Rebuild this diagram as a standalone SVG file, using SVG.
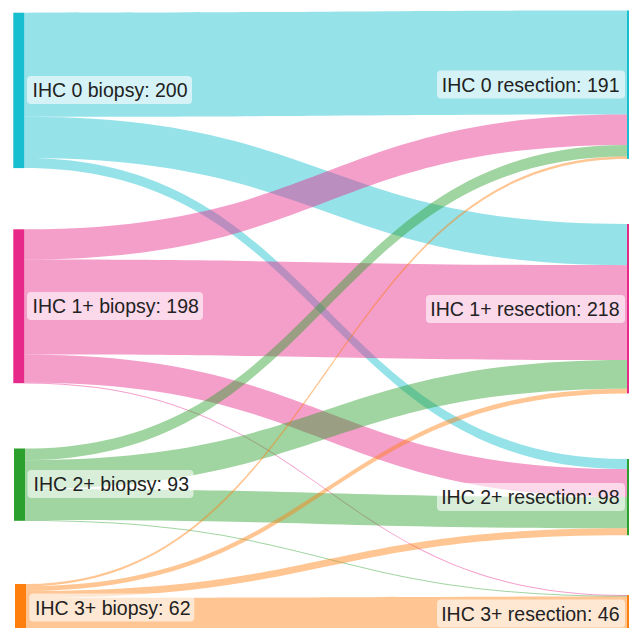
<svg xmlns="http://www.w3.org/2000/svg" width="629" height="628" viewBox="0 0 629 628">
<style>
.lk{stroke:none;fill-opacity:0.45}
.c0{fill:#17becf}.c1{fill:#e7298a}.c2{fill:#2ca02c}.c3{fill:#ff7f0e}
.box{fill:#ffffff;fill-opacity:0.6}
.lbl{font-family:"Liberation Sans",Arial,sans-serif;font-size:19.5px;fill:#222}
.end{text-anchor:end}
</style>
<rect width="629" height="628" fill="#ffffff"/>
<g id="links">
<path class="lk c0" d="M24.3 12.7C325.6 12.7 325.6 10.5 627 10.5L627 114.6C325.6 114.6 325.6 116.8 24.3 116.8Z"/>
<path class="lk c0" d="M24.3 116.8C325.6 116.8 325.6 224 627 224L627 265.2C325.6 265.2 325.6 158 24.3 158Z"/>
<path class="lk c0" d="M24.3 158C325.6 158 325.6 459 627 459L627 469.1C325.6 469.1 325.6 168.1 24.3 168.1Z"/>
<path class="lk c1" d="M24.3 229.3C325.6 229.3 325.6 114.6 627 114.6L627 144.9C325.6 144.9 325.6 259.6 24.3 259.6Z"/>
<path class="lk c1" d="M24.3 259.6C325.6 259.6 325.6 265.2 627 265.2L627 360C325.6 360 325.6 354.4 24.3 354.4Z"/>
<path class="lk c1" d="M24.3 354.4C325.6 354.4 325.6 469.1 627 469.1L627 497.1C325.6 497.1 325.6 382.4 24.3 382.4Z"/>
<path class="lk c1" d="M24.3 382.4C325.6 382.4 325.6 595 627 595L627 596C325.6 596 325.6 383.4 24.3 383.4Z"/>
<path class="lk c2" d="M25 448.5C326 448.5 326 144.9 627 144.9L627 156.6C326 156.6 326 460.2 25 460.2Z"/>
<path class="lk c2" d="M25 460.2C326 460.2 326 360 627 360L627 388.7C326 388.7 326 488.9 25 488.9Z"/>
<path class="lk c2" d="M25 488.9C326 488.9 326 497.1 627 497.1L627 528.2C326 528.2 326 520 25 520Z"/>
<path class="lk c2" d="M25 520C326 520 326 595.8 627 595.8L627 596.8C326 596.8 326 521 25 521Z"/>
<path class="lk c3" d="M26 584C326.5 584 326.5 156.6 627 156.6L627 158.9C326.5 158.9 326.5 586.3 26 586.3Z"/>
<path class="lk c3" d="M26 586.3C326.5 586.3 326.5 388.7 627 388.7L627 393.4C326.5 393.4 326.5 591 26 591Z"/>
<path class="lk c3" d="M26 591C326.5 591 326.5 528.2 627 528.2L627 535.2C326.5 535.2 326.5 598 26 598Z"/>
<path class="lk c3" d="M26 598C326.5 598 326.5 596.6 627 596.6L627 630.8C326.5 630.8 326.5 632.2 26 632.2Z"/>
</g>
<g id="node-ihc0-biopsy">
<rect class="c0" x="13.3" y="12.7" width="11" height="155.4"/>
<rect class="box" x="27" y="76" width="165" height="28" rx="4"/>
<text class="lbl" x="32.5" y="97">IHC 0 biopsy: 200</text>
</g>
<g id="node-ihc1-biopsy">
<rect class="c1" x="13.3" y="229.3" width="11" height="153.9"/>
<rect class="box" x="27" y="292" width="176" height="28" rx="4"/>
<text class="lbl" x="32.5" y="313">IHC 1+ biopsy: 198</text>
</g>
<g id="node-ihc2-biopsy">
<rect class="c2" x="14" y="448.5" width="11" height="72.3"/>
<rect class="box" x="27.5" y="470" width="166" height="28" rx="4"/>
<text class="lbl" x="33.5" y="491">IHC 2+ biopsy: 93</text>
</g>
<g id="node-ihc3-biopsy">
<rect class="c3" x="15" y="584" width="11" height="48.2"/>
<rect class="box" x="29.3" y="593.5" width="165" height="28" rx="4"/>
<text class="lbl" x="35" y="614.5">IHC 3+ biopsy: 62</text>
</g>
<g id="node-ihc0-resection">
<rect class="c0" x="627" y="10.5" width="11" height="148.4"/>
<rect class="box" x="437" y="70.5" width="188" height="28" rx="4"/>
<text class="lbl end" x="619.5" y="91.5">IHC 0 resection: 191</text>
</g>
<g id="node-ihc1-resection">
<rect class="c1" x="627" y="224" width="11" height="169.4"/>
<rect class="box" x="426" y="295" width="199" height="28" rx="4"/>
<text class="lbl end" x="619.5" y="316">IHC 1+ resection: 218</text>
</g>
<g id="node-ihc2-resection">
<rect class="c2" x="627" y="459" width="11" height="76.2"/>
<rect class="box" x="437" y="483" width="188" height="28" rx="4"/>
<text class="lbl end" x="619.5" y="504">IHC 2+ resection: 98</text>
</g>
<g id="node-ihc3-resection">
<rect class="c3" x="627" y="595" width="11" height="35.8"/>
<rect class="box" x="437" y="599.5" width="188" height="28" rx="4"/>
<text class="lbl end" x="619.5" y="620.5">IHC 3+ resection: 46</text>
</g>
</svg>
